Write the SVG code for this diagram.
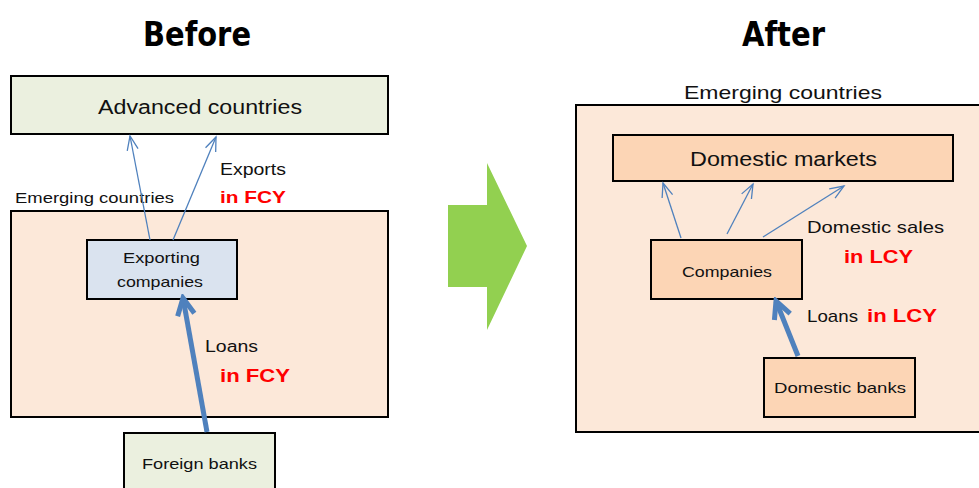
<svg xmlns="http://www.w3.org/2000/svg" width="979" height="488" viewBox="0 0 979 488">
<style>
text{font-family:"Liberation Sans","DejaVu Sans",sans-serif;fill:#111}
.box{stroke:#000;stroke-width:2}
.green{fill:#ebf0df}
.peach{fill:#fce8d9}
.blue{fill:#dae3ef}
.orange{fill:#fcd5b5}
.red{fill:#ff0000;font-weight:bold}
.title{font-family:"DejaVu Sans Condensed","DejaVu Sans",sans-serif;font-weight:bold;font-size:34px;fill:#000}
.thin{stroke:#4f81bd;stroke-width:1.3;fill:none}
.thick{stroke:#4f81bd;stroke-width:5;fill:none}
</style>
<defs>
<marker id="mThin" viewBox="-16 -8 18 16" refX="0" refY="0" markerWidth="18" markerHeight="16" markerUnits="userSpaceOnUse" orient="auto">
<path d="M-14,-5.5 L0,0 L-14,5.5" fill="none" stroke="#4f81bd" stroke-width="1.3"/>
</marker>
<marker id="mThick" viewBox="-22 -12 26 24" refX="0" refY="0" markerWidth="26" markerHeight="24" markerUnits="userSpaceOnUse" orient="auto">
<path d="M-17,-8.5 L0,0 L-17,8.5" fill="none" stroke="#4f81bd" stroke-width="5" stroke-linejoin="miter"/>
</marker>
</defs>

<text class="title" x="143" y="46" textLength="108" lengthAdjust="spacingAndGlyphs">Before</text>
<text class="title" x="742" y="46" textLength="83" lengthAdjust="spacingAndGlyphs">After</text>

<g id="advanced">
<rect class="box green" x="11" y="76" width="377" height="58"/>
<text x="98" y="114" font-size="20" textLength="204" lengthAdjust="spacingAndGlyphs">Advanced countries</text>
</g>

<g id="emerging-before">
<rect class="box peach" x="11" y="211" width="377" height="206"/>
<text x="15" y="203" font-size="15" textLength="159" lengthAdjust="spacingAndGlyphs">Emerging countries</text>
</g>

<g id="exporting">
<rect class="box blue" x="87" y="240" width="150" height="59"/>
<text x="123" y="263" font-size="15" textLength="77" lengthAdjust="spacingAndGlyphs">Exporting</text>
<text x="117" y="287" font-size="15" textLength="86" lengthAdjust="spacingAndGlyphs">companies</text>
</g>

<g id="foreign">
<rect class="box green" x="124" y="433" width="151" height="60"/>
<text x="142" y="469" font-size="15" textLength="115" lengthAdjust="spacingAndGlyphs">Foreign banks</text>
</g>

<g id="shift-arrow">
<polygon points="448,205 487,205 487,163 527,246 487,330 487,287 448,287" fill="#92d050"/>
</g>

<g id="emerging-after">
<rect class="box peach" x="576" y="105" width="410" height="327"/>
<text x="684" y="99" font-size="19" textLength="198" lengthAdjust="spacingAndGlyphs">Emerging countries</text>
</g>

<g id="markets">
<rect class="box orange" x="613" y="135" width="340" height="46"/>
<text x="690" y="166" font-size="20" textLength="187" lengthAdjust="spacingAndGlyphs">Domestic markets</text>
</g>

<g id="companies">
<rect class="box orange" x="651" y="240" width="151" height="59"/>
<text x="682" y="277" font-size="15" textLength="90" lengthAdjust="spacingAndGlyphs">Companies</text>
</g>

<g id="banks">
<rect class="box orange" x="764" y="358" width="151" height="59"/>
<text x="774" y="393" font-size="15" textLength="132" lengthAdjust="spacingAndGlyphs">Domestic banks</text>
</g>

<g id="connectors">
<line class="thin" x1="150" y1="240" x2="130" y2="136" marker-end="url(#mThin)"/>
<line class="thin" x1="173" y1="240" x2="216" y2="137" marker-end="url(#mThin)"/>
<line class="thick" x1="207" y1="432" x2="183" y2="298" marker-end="url(#mThick)"/>
<line class="thin" x1="681" y1="238" x2="663" y2="183" marker-end="url(#mThin)"/>
<line class="thin" x1="727" y1="234" x2="753" y2="184" marker-end="url(#mThin)"/>
<line class="thin" x1="763" y1="237" x2="844" y2="186" marker-end="url(#mThin)"/>
<line class="thick" x1="798" y1="356" x2="776" y2="301" marker-end="url(#mThick)"/>
</g>

<g id="labels">
<text x="220" y="175" font-size="16" textLength="66" lengthAdjust="spacingAndGlyphs">Exports</text>
<text class="red" x="220" y="203" font-size="17" textLength="66" lengthAdjust="spacingAndGlyphs">in FCY</text>
<text x="205" y="352" font-size="16" textLength="53" lengthAdjust="spacingAndGlyphs">Loans</text>
<text class="red" x="220" y="382" font-size="18" textLength="70" lengthAdjust="spacingAndGlyphs">in FCY</text>
<text x="807" y="233" font-size="17" textLength="137" lengthAdjust="spacingAndGlyphs">Domestic sales</text>
<text class="red" x="844" y="263" font-size="18" textLength="69" lengthAdjust="spacingAndGlyphs">in LCY</text>
<text x="807" y="322" font-size="17" textLength="51" lengthAdjust="spacingAndGlyphs">Loans</text>
<text class="red" x="867" y="322" font-size="18" textLength="70" lengthAdjust="spacingAndGlyphs">in LCY</text>
</g>
</svg>
